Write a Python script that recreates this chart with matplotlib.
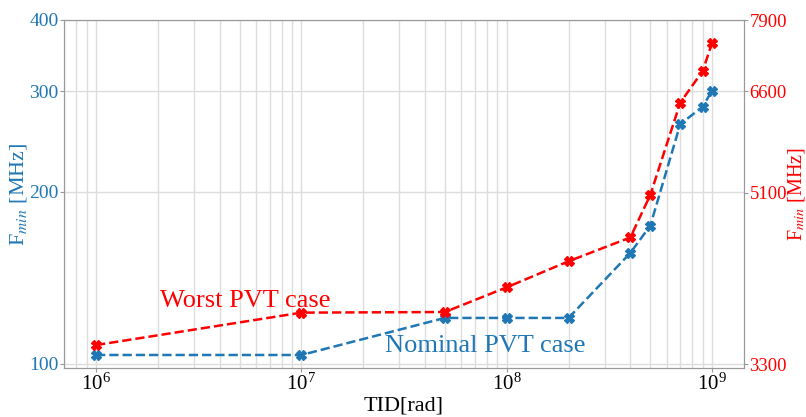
import matplotlib
matplotlib.use("Agg")
import matplotlib.pyplot as plt
from matplotlib.ticker import FixedLocator, FixedFormatter, NullLocator, LogLocator

plt.rcParams['font.family'] = ['Liberation Serif', 'DejaVu Serif']
plt.rcParams['mathtext.fontset'] = 'stix'

# data
tid = [1e6, 1e7, 5e7, 1e8, 2e8, 4e8, 5e8, 7e8, 9e8, 1e9]
f_nominal = [103.7, 103.7, 120.4, 120.4, 120.4, 156.5, 174.6, 263, 282, 301]
f_worst = [3463, 3760, 3766, 4010, 4284, 4551, 5069, 6409, 6944, 7461]

left_ticks = [100, 200, 300, 400]
right_ticks = [3300, 5100, 6600, 7900]

blue = '#1f77b4'
red = '#ff0000'
spine_col = '#999999'

fig = plt.figure(figsize=(8.06, 4.17), dpi=100)
ax = fig.add_axes([64/806, 1-368/417, (744-64)/806, (368-20)/417])
ax2 = ax.twinx()

ax.plot(tid, f_nominal, '--', color=blue, marker='X', markersize=7, linewidth=1.8)
ax2.plot(tid, f_worst, '--', color=red, marker='X', markersize=7, linewidth=1.8)

ax.set_xscale('log')
ax.set_yscale('log')
ax2.set_yscale('log')
ax.set_xlim(6.98e5, 1.43e9)
ax.set_ylim(98.4, 400)
ax2.set_ylim(3267, 7904)

ax.xaxis.set_major_locator(LogLocator(base=10, numticks=10))
ax.xaxis.set_minor_locator(LogLocator(base=10, subs=range(2, 10), numticks=20))

ax.yaxis.set_major_locator(FixedLocator(left_ticks))
ax.yaxis.set_major_formatter(FixedFormatter([str(t) for t in left_ticks]))
ax.yaxis.set_minor_locator(NullLocator())
ax2.yaxis.set_major_locator(FixedLocator(right_ticks))
ax2.yaxis.set_major_formatter(FixedFormatter([str(t) for t in right_ticks]))
ax2.yaxis.set_minor_locator(NullLocator())

ax.grid(True, which='major', axis='both', color='#dddddd', linewidth=1)
ax.grid(True, which='minor', axis='x', color='#dddddd', linewidth=1)
ax.set_axisbelow(True)

ax.tick_params(axis='x', which='major', colors=spine_col, labelcolor='black',
               labelsize=15, length=3, pad=1)
ax.tick_params(axis='x', which='minor', colors=spine_col, length=0)
ax.tick_params(axis='y', colors=spine_col, labelcolor=blue, labelsize=14, length=3, pad=1)
ax2.tick_params(axis='y', colors=spine_col, labelcolor=red, labelsize=13.5, length=3, pad=1)
for a in (ax, ax2):
    for s in a.spines.values():
        s.set_color(spine_col)

ax.set_xlabel('TID[rad]', fontsize=16, labelpad=1)
ax.set_ylabel(r'F$_{min}$ [MHz]', fontsize=16, color=blue, labelpad=0)
ax2.set_ylabel(r'F$_{min}$ [MHz]', fontsize=14.5, color=red, labelpad=-1)

ax.text(2.05e6, 125.8, 'Worst PVT case', color=red, fontsize=19)
ax.text(2.55e7, 104.96, 'Nominal PVT case', color=blue, fontsize=19)

fig.savefig('out.png', dpi=100)
